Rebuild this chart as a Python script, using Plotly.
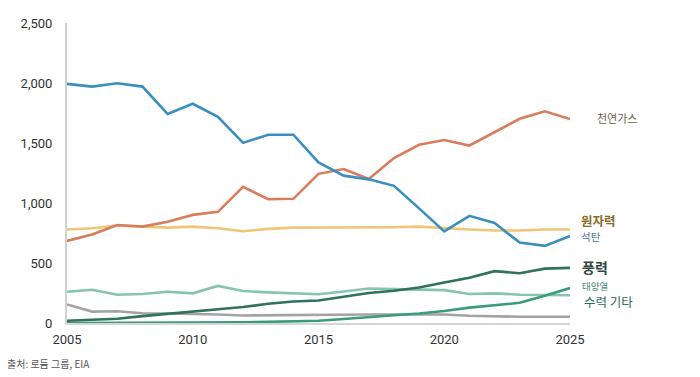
import plotly.graph_objects as go

years = list(range(2005, 2026))

coal = [1993, 1970, 1998, 1970, 1742, 1827, 1718, 1501, 1569, 1569, 1338, 1228,
        1197, 1143, 955, 763, 893, 833, 670, 643, 725]
gas = [684, 738, 817, 803, 844, 901, 926, 1134, 1031, 1035, 1243, 1283,
       1200, 1374, 1485, 1525, 1479, 1590, 1702, 1764, 1699]
nuclear = [779, 790, 812, 806, 795, 803, 790, 765, 784, 795, 795, 798,
           798, 798, 803, 790, 779, 771, 771, 779, 779]
wind = [19, 27, 35, 57, 76, 92, 114, 133, 160, 179, 187, 220,
        250, 269, 296, 337, 377, 432, 415, 453, 459]
hydro = [260, 277, 236, 242, 260, 247, 309, 266, 255, 247, 240, 263,
         288, 282, 277, 274, 242, 247, 236, 231, 231]
solar = [0, 0, 1, 1, 2, 3, 4, 6, 9, 13, 19, 33,
         52, 65, 79, 100, 128, 147, 168, 228, 291]
other = [155, 95, 98, 81, 79, 76, 71, 63, 65, 71, 71, 71,
         71, 71, 71, 71, 60, 55, 52, 52, 52]

series = [
    ("기타", other, "#a3a3a3"),
    ("수력", hydro, "#86c4b0"),
    ("태양열", solar, "#3a9c7c"),
    ("풍력", wind, "#2f7358"),
    ("원자력", nuclear, "#efc576"),
    ("천연가스", gas, "#d97c5c"),
    ("석탄", coal, "#3a8fbf"),
]

x_ticks = [2005, 2010, 2015, 2020, 2025]
y_ticks = [0, 500, 1000, 1500, 2000, 2500]
y_ticktext = ["0", "500", "1,000", "1,500", "2,000", "2,500"]

labels = [
    ("천연가스", 1710, 1.05, 11, "#6e5c4c", False),
    ("원자력", 852, 1.018, 12.5, "#8a6a28", True),
    ("석탄", 718, 1.018, 10.5, "#4878a0", False),
    ("풍력", 464, 1.02, 14, "#34463f", True),
    ("태양열", 312, 1.02, 9.5, "#4a8a7a", False),
    ("수력 기타", 181, 1.024, 12.5, "#2f6a5a", False),
]

fig = go.Figure()
for name, vals, color in series:
    fig.add_trace(go.Scatter(x=years, y=vals, mode="lines", name=name,
                             line=dict(color=color, width=2.6), showlegend=False,
                             cliponaxis=False))

for text, yv, xp, size, color, bold in labels:
    fig.add_annotation(x=xp, xref="paper", y=yv, yref="y", text=(f"<b>{text}</b>" if bold else text),
                       showarrow=False, xanchor="left", yanchor="middle",
                       font=dict(size=size, color=color, family="Noto Sans CJK KR"))

fig.add_annotation(x=-0.123, xref="paper", y=-0.134, yref="paper", text="출처: 로듐 그룹, EIA",
                   showarrow=False, xanchor="left", yanchor="middle",
                   font=dict(size=10, color="#555555", family="Noto Sans CJK KR"))

fig.update_layout(
    width=692, height=369,
    margin=dict(l=59, r=130, t=8, b=54),
    paper_bgcolor="white", plot_bgcolor="white",
    font=dict(family="Roboto, Noto Sans CJK KR", size=13, color="#333333"),
)
fig.update_xaxes(range=[2005, 2025], tickvals=x_ticks, ticktext=[str(t) for t in x_ticks],
                 showgrid=False, zeroline=False, showline=True, linecolor="#d6d6d6", linewidth=1.5,
                 ticks="", ticklabelstandoff=4)
fig.update_yaxes(range=[0, 2500], tickvals=y_ticks, ticktext=y_ticktext,
                 showgrid=False, zeroline=False, showline=True, linecolor="#d0d0d0", linewidth=2,
                 ticks="", ticklabelstandoff=10)

fig.write_html("out.html")
